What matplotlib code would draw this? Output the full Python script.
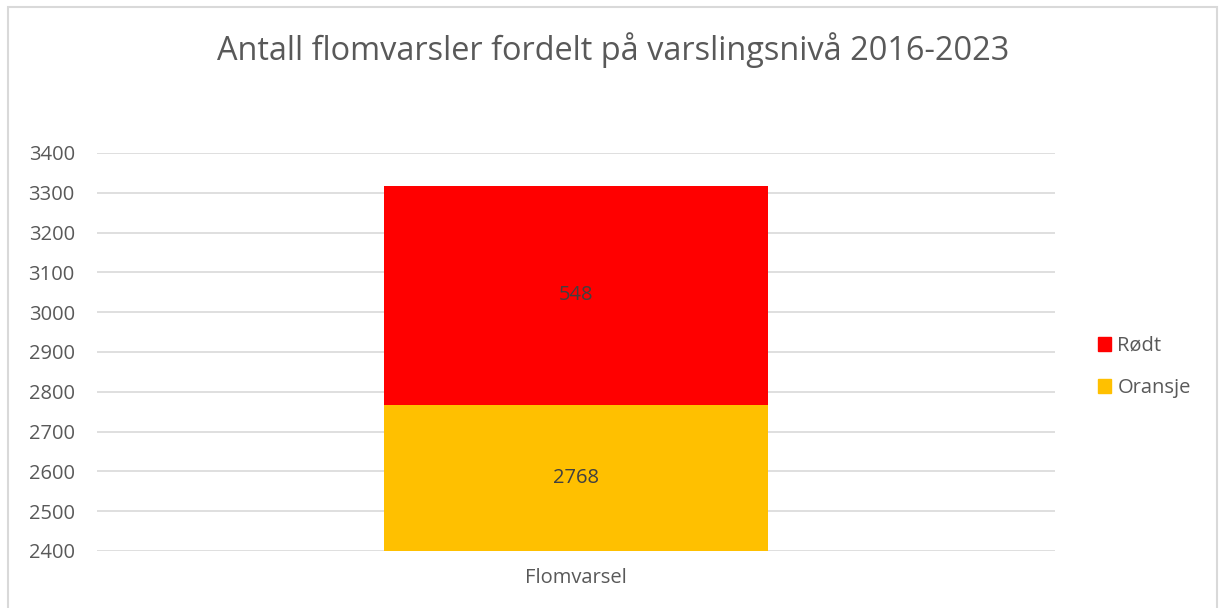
import matplotlib
matplotlib.use('Agg')
import matplotlib.pyplot as plt
from matplotlib.patches import Rectangle

# Data
categories = ['Flomvarsel']
oransje = [2768]
rodt = [548]
series_names = ['Rødt', 'Oransje']
colors = {'Rødt': '#FF0000', 'Oransje': '#FFC000'}
yticks = list(range(2400, 3401, 100))

plt.rcParams['font.family'] = ['Open Sans', 'DejaVu Sans']
text_color = '#595959'

fig = plt.figure(figsize=(12.22, 6.08), dpi=100)
ax = fig.add_axes([97 / 1222, 57 / 608, (1055 - 97) / 1222, (551 - 153) / 608])

ymin, ymax = 2400, 3400
x = range(len(categories))
ax.bar(x, oransje, width=0.4, color=colors['Oransje'], zorder=2)
ax.bar(x, rodt, bottom=oransje, width=0.4, color=colors['Rødt'], zorder=2)

ax.set_xlim(-0.5, 0.5)
ax.set_ylim(ymin, ymax)
ax.set_yticks(yticks)
ax.set_xticks(list(x))
ax.set_xticklabels(categories)

# labels in the middle of the visible part of each segment
for i in x:
    lo = max(0, ymin)
    ax.text(i, (lo + oransje[i]) / 2, str(oransje[i]), ha='center', va='center',
            fontsize=14.5, color='#404040', zorder=3)
    ax.text(i, oransje[i] + rodt[i] / 2, str(rodt[i]), ha='center', va='center',
            fontsize=14.5, color='#404040', zorder=3)

ax.grid(axis='y', color='#D9D9D9', linewidth=1.2, zorder=0)
for s in ax.spines.values():
    s.set_visible(False)
ax.tick_params(axis='both', length=0, labelsize=14.5, colors=text_color)
ax.tick_params(axis='y', pad=16)
ax.tick_params(axis='x', pad=12)

fig.text(613 / 1222, 1 - 50 / 608, 'Antall flomvarsler fordelt på varslingsnivå 2016-2023',
         ha='center', va='center', fontsize=23.4, color=text_color)

# legend
handles = [Rectangle((0, 0), 1, 1, color=colors[n]) for n in series_names]
leg = fig.legend(handles, series_names, loc='center left',
                 bbox_to_anchor=(1080 / 1222, 1 - 367 / 608), frameon=False,
                 fontsize=14.5, handlelength=0.65, handleheight=0.65,
                 handletextpad=0.3, labelspacing=1.1, labelcolor=text_color)

# outer border
fig.patches.append(Rectangle((8 / 1222, -0.01), (1217 - 8) / 1222, 1 - 7 / 608 + 0.01,
                             transform=fig.transFigure, fill=False,
                             edgecolor='#D9D9D9', linewidth=1.5))

plt.savefig('out.png', dpi=100)
plt.close()
